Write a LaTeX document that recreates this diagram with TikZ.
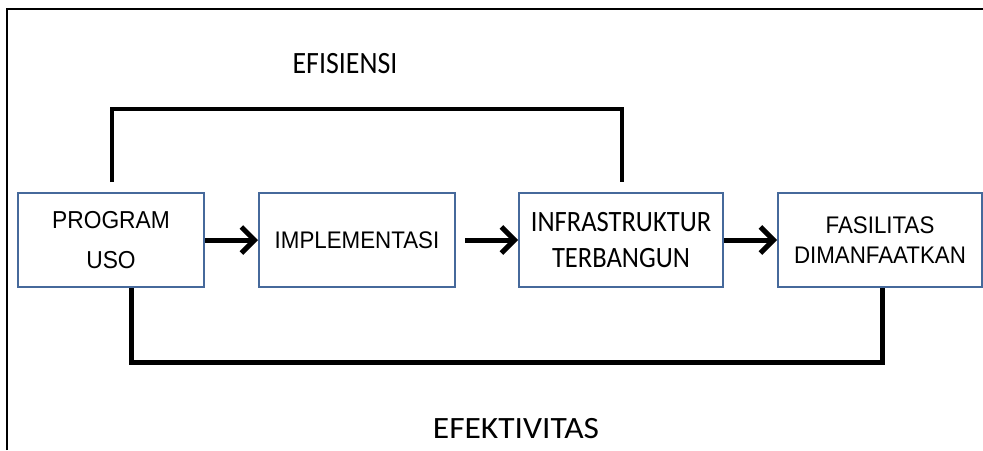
\documentclass[tikz,border=0pt]{standalone}
\usepackage{fontspec}
\setmainfont{Liberation Sans}
\newfontfamily\arialtall[FakeStretch=0.93]{Liberation Sans}
\newfontfamily\calibritall[FakeStretch=0.9]{Carlito}
\newfontfamily\calibriwide[FakeStretch=1.08]{Carlito}
\usetikzlibrary{arrows.meta}
\definecolor{boxblue}{RGB}{70,105,155}
\tikzset{
  stepbox/.style={draw=boxblue, line width=2pt, inner sep=0pt, align=center, anchor=center},
  flowarrow/.style={line width=5pt, -{Straight Barb[length=13pt,width=26pt,line width=5pt]}},
  topconn/.style={line width=4pt},
  botconn/.style={line width=5pt},
  frameline/.style={line width=2.5pt},
  caption/.style={inner sep=0pt}
}
\begin{document}
\begin{tikzpicture}[x=1pt,y=-1pt]
\useasboundingbox (0,0) rectangle (983,450);
% frame
\coordinate (fTL) at (7,9);
\coordinate (fTR) at (983,9);
\coordinate (fBL) at (7,450);
\draw[frameline] (fBL) -- (fTL) -- (fTR);
% boxes
\node[stepbox, minimum width=186pt, minimum height=94pt, font=\arialtall\fontsize{24.5}{40}\selectfont] (A) at (111,240) {PROGRAM\\USO};
\node[stepbox, minimum width=196pt, minimum height=94pt, font=\arialtall\fontsize{24}{26}\selectfont] (B) at (357,240) {IMPLEMENTASI};
\node[stepbox, minimum width=204pt, minimum height=94pt, font=\calibritall\fontsize{29.5}{36}\selectfont] (C) at (621,240) {INFRASTRUKTUR\\TERBANGUN};
\node[stepbox, minimum width=204pt, minimum height=94pt, font=\arialtall\fontsize{24}{30}\selectfont] (D) at (880,240) {FASILITAS\\DIMANFAATKAN};
% arrows
\draw[flowarrow] (A.east) -- (B.west);
\draw[flowarrow, shorten <=9pt] (B.east) -- (C.west);
\draw[flowarrow] (C.east) -- (D.west);
% efficiency loop
\draw[topconn, shorten <=10pt, shorten >=10pt] ([xshift=1pt]A.north) -- ++(0,-83) -| ([xshift=1pt]C.north);
% effectiveness loop
\draw[botconn] ([xshift=20pt]A.south) -- ++(0,74) -| ([xshift=2pt]D.south);
% labels
\node[caption, font=\calibritall\fontsize{31}{33}\selectfont] (eff) at (345,64) {EFISIENSI};
\node[caption, font=\calibriwide\fontsize{31}{33}\selectfont] (efk) at (516,429) {EFEKTIVITAS};
\end{tikzpicture}
\end{document}
